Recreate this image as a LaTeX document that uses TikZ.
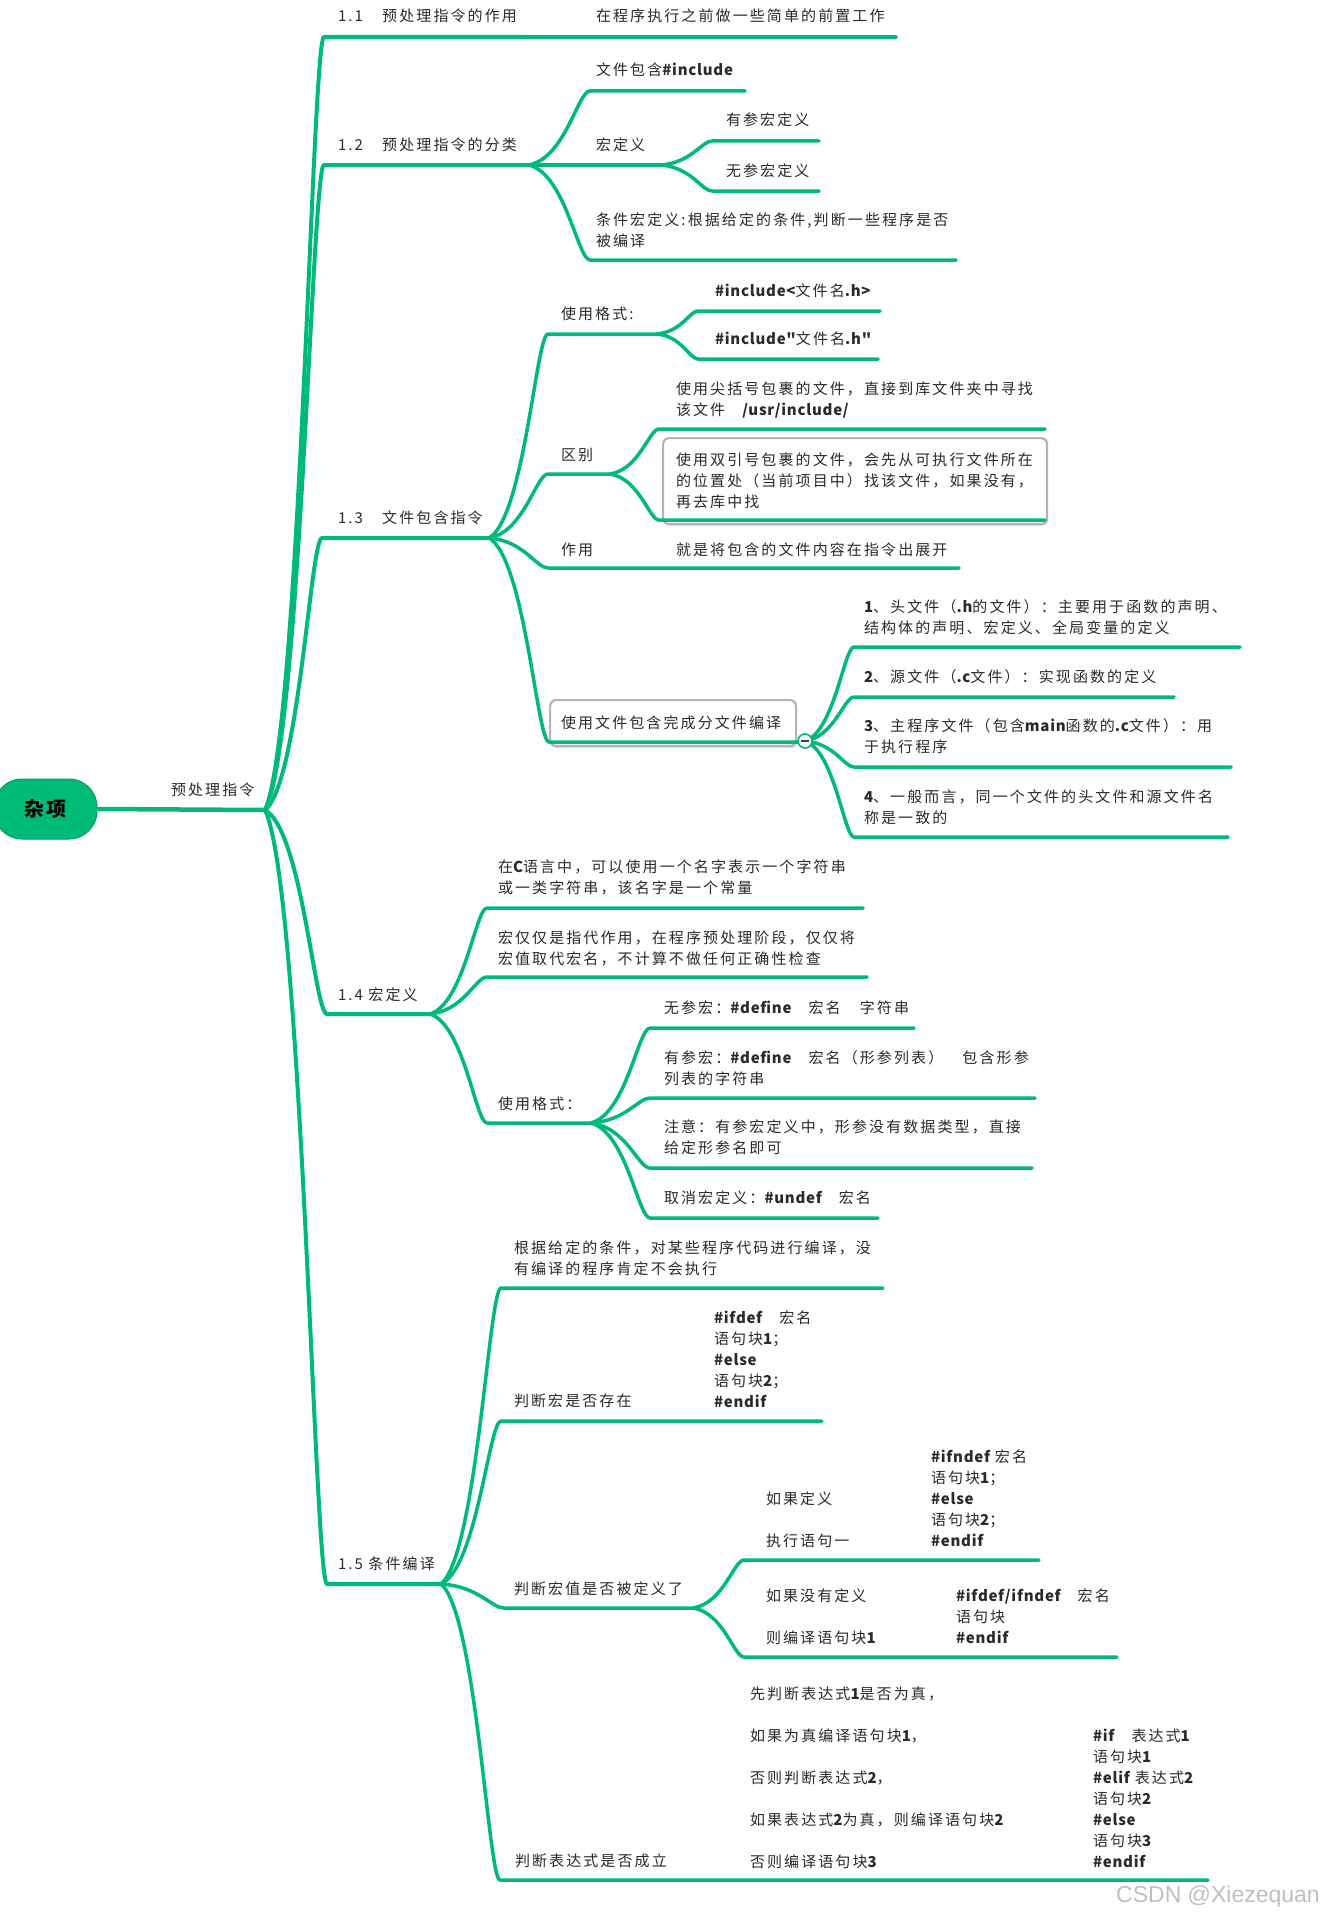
\documentclass[tikz,border=0pt]{standalone}
\usepackage{fontspec}
\setmainfont{Noto Sans CJK SC}[LetterSpace=14, Ligatures=TeXOff]
\newfontfamily\wmfont{Liberation Sans}
\usetikzlibrary{calc}
\definecolor{mmgreen}{HTML}{00BA78}
\definecolor{mmtext}{HTML}{2A2A2A}
\definecolor{mmbox}{HTML}{B4B4B4}
\definecolor{mmshadow}{HTML}{E2E2E2}
\newcommand\mmcode[1]{{\bfseries\addfontfeature{LetterSpace=5}#1}}
\newcommand\mmlink[4][mmline]{\draw[#1] let \p1=(#2), \p2=(#3) in (\p1) .. controls ({\x1+0.6*(\x2-\x1)},{\y1+0.1*(\y2-\y1)}) and ({\x2-0.2*(\x2-\x1)},{\y2}) .. (\p2) -- (#4);}
\tikzset{
  mmline/.style={draw=mmgreen, line width=3.5pt, line cap=round, line join=round},
  mmtrunk/.style={mmline, line width=4pt},
  mmtxt/.style={anchor=base west, inner sep=0pt, outer sep=0pt, text=mmtext, font=\fontsize{15}{21}\selectfont},
  mmml/.style={mmtxt, text width=440pt, align=left},
  mmboxed/.style={anchor=north west, draw=mmbox, line width=2.2pt, fill=white, rounded corners=6pt, inner sep=0pt},
  mmshade/.style={anchor=north west, fill=mmshadow, rounded corners=6pt, inner sep=0pt, draw=none},
  rootnode/.style={fill=mmgreen, draw=mmgreen!85!black, line width=1pt, rounded corners=28pt, minimum width=103pt, minimum height=60pt, inner sep=0pt, text=black, font=\fontsize{20}{20}\selectfont\bfseries},
  knob/.style={circle, draw=mmgreen, line width=1.6pt, fill=white, minimum size=14pt, inner sep=0pt}
}
\begin{document}
\begin{tikzpicture}[x=1pt,y=-1pt]
\fill[white] (0,0) rectangle (1323,1916);
\useasboundingbox (0,0) rectangle (1323,1916);

% ---------- coordinates ----------
\coordinate (P0) at (265,810);
\coordinate (a1s) at (324,37);  \coordinate (a1e) at (525,37);  \coordinate (a1ce) at (896,37);
\coordinate (a2s) at (324,165); \coordinate (a2e) at (529,165);
\coordinate (a3s) at (322,538); \coordinate (a3e) at (489,538);
\coordinate (a4s) at (327,1014); \coordinate (a4e) at (430,1014);
\coordinate (a5s) at (327,1584); \coordinate (a5e) at (441,1584);
% 1.2
\coordinate (b1s) at (590,91);  \coordinate (b1e) at (745,91);
\coordinate (b2e) at (661,165);
\coordinate (b21s) at (712,141); \coordinate (b21e) at (819,141);
\coordinate (b22s) at (712,191); \coordinate (b22e) at (819,191);
\coordinate (b3s) at (590,260); \coordinate (b3e) at (956,260);
% 1.3
\coordinate (c1s) at (548,334); \coordinate (c1e) at (657,334);
\coordinate (c11s) at (698,311); \coordinate (c11e) at (880,311);
\coordinate (c12s) at (698,359); \coordinate (c12e) at (878,359);
\coordinate (c2s) at (548,474); \coordinate (c2e) at (610,474);
\coordinate (c21s) at (659,429); \coordinate (c21e) at (1045,429);
\coordinate (c22s) at (659,520); \coordinate (c22e) at (1045,520);
\coordinate (c3s) at (548,568); \coordinate (c3e) at (959,568);
\coordinate (c4s) at (549,742); \coordinate (c4e) at (801,742);
\coordinate (c4o) at (805,741);
\coordinate (c41s) at (854,647); \coordinate (c41e) at (1240,647);
\coordinate (c42s) at (854,697); \coordinate (c42e) at (1174,697);
\coordinate (c43s) at (854,767); \coordinate (c43e) at (1231,767);
\coordinate (c44s) at (854,837); \coordinate (c44e) at (1228,837);
% 1.4
\coordinate (d1s) at (487,908); \coordinate (d1e) at (863,908);
\coordinate (d2s) at (487,977); \coordinate (d2e) at (867,977);
\coordinate (d3s) at (487,1123); \coordinate (d3e) at (591,1123);
\coordinate (d31s) at (650,1028); \coordinate (d31e) at (914,1028);
\coordinate (d32s) at (650,1098); \coordinate (d32e) at (1035,1098);
\coordinate (d33s) at (650,1168); \coordinate (d33e) at (1032,1168);
\coordinate (d34s) at (650,1218); \coordinate (d34e) at (878,1218);
% 1.5
\coordinate (e1s) at (501,1288); \coordinate (e1e) at (883,1288);
\coordinate (e2s) at (501,1421); \coordinate (e2e) at (822,1421);
\coordinate (e3s) at (504,1608); \coordinate (e3e) at (693,1608);
\coordinate (e31s) at (744,1560); \coordinate (e31e) at (1039,1560);
\coordinate (e32s) at (744,1657); \coordinate (e32e) at (1117,1657);
\coordinate (e4s) at (500,1880); \coordinate (e4e) at (1208,1880);

% ---------- boxes ----------
\node[mmshade, minimum width=384pt, minimum height=86pt] (c22sh) at (664,440) {};
\node[mmboxed, minimum width=384pt, minimum height=86pt] (c22box) at (662,437) {};
\node[mmshade, minimum width=246pt, minimum height=46pt] (c4sh) at (551,702) {};
\node[mmboxed, minimum width=246pt, minimum height=46pt] (c4box) at (549,699) {};

% ---------- root ----------
\node[rootnode] (root) at (45.5,809) {杂项};
\draw[mmtrunk, line width=4.5pt] (root.east) -- (P0);

% ---------- level 1 ----------
\mmlink[mmtrunk]{P0}{a1s}{a1e}
\draw[mmline] (a1e) -- (a1ce);
\mmlink[mmtrunk]{P0}{a2s}{a2e}
\mmlink[mmtrunk]{P0}{a3s}{a3e}
\mmlink[mmtrunk]{P0}{a4s}{a4e}
\mmlink[mmtrunk]{P0}{a5s}{a5e}

% 1.2
\mmlink{a2e}{b1s}{b1e}
\draw[mmline] (a2e) -- (b2e);
\mmlink{b2e}{b21s}{b21e}
\mmlink{b2e}{b22s}{b22e}
\mmlink{a2e}{b3s}{b3e}
% 1.3
\mmlink{a3e}{c1s}{c1e}
\mmlink{c1e}{c11s}{c11e}
\mmlink{c1e}{c12s}{c12e}
\mmlink{a3e}{c2s}{c2e}
\mmlink{c2e}{c21s}{c21e}
\mmlink{c2e}{c22s}{c22e}
\mmlink{a3e}{c3s}{c3e}
\mmlink{a3e}{c4s}{c4e}
\mmlink{c4o}{c41s}{c41e}
\mmlink{c4o}{c42s}{c42e}
\mmlink{c4o}{c43s}{c43e}
\mmlink{c4o}{c44s}{c44e}
\node[knob] (c4k) at (c4o) {};
\draw[draw=mmtext!70!mmgreen, line width=1.4pt] ($(c4k.center)+(-4,0)$) -- ($(c4k.center)+(4,0)$);
% 1.4
\mmlink{a4e}{d1s}{d1e}
\mmlink{a4e}{d2s}{d2e}
\mmlink{a4e}{d3s}{d3e}
\mmlink{d3e}{d31s}{d31e}
\mmlink{d3e}{d32s}{d32e}
\mmlink{d3e}{d33s}{d33e}
\mmlink{d3e}{d34s}{d34e}
% 1.5
\mmlink{a5e}{e1s}{e1e}
\mmlink{a5e}{e2s}{e2e}
\mmlink{a5e}{e3s}{e3e}
\mmlink{e3e}{e31s}{e31e}
\mmlink{e3e}{e32s}{e32e}
\mmlink{a5e}{e4s}{e4e}

% ---------- texts ----------
\node[mmtxt] (t0) at (171,795) {预处理指令};
\node[mmtxt] (t11) at (338,22) {1.1　预处理指令的作用};
\node[mmtxt] (t11c) at (596,22) {在程序执行之前做一些简单的前置工作};
\node[mmtxt] (t12) at (338,150) {1.2　预处理指令的分类};
\node[mmtxt] (tb1) at (596,76) {文件包含\mmcode{\#include}};
\node[mmtxt] (tb2) at (596,150) {宏定义};
\node[mmtxt] (tb21) at (726,126) {有参宏定义};
\node[mmtxt] (tb22) at (726,176) {无参宏定义};
\node[mmml] (tb3) at (596,225) {条件宏定义:根据给定的条件,判断一些程序是否\\被编译};

\node[mmtxt] (t13) at (338,523) {1.3　文件包含指令};
\node[mmtxt] (tc1) at (561,319) {使用格式:};
\node[mmtxt] (tc11) at (715,296) {\mmcode{\#include<}文件名\mmcode{.h>}};
\node[mmtxt] (tc12) at (715,344) {\mmcode{\#include"}文件名\mmcode{.h"}};
\node[mmtxt] (tc2) at (561,460) {区别};
\node[mmml] (tc21) at (676,394) {使用尖括号包裹的文件，直接到库文件夹中寻找\\该文件　\mmcode{/usr/include/}};
\node[mmml] (tc22) at (676,465) {使用双引号包裹的文件，会先从可执行文件所在\\的位置处（当前项目中）找该文件，如果没有，\\再去库中找};
\node[mmtxt] (tc3) at (561,555) {作用};
\node[mmtxt] (tc3c) at (676,555) {就是将包含的文件内容在指令出展开};
\node[mmtxt] (tc4) at (561,728) {使用文件包含完成分文件编译};
\node[mmml] (tc41) at (864,612) {\mmcode{1}、头文件（\mmcode{.h}的文件）：主要用于函数的声明、\\结构体的声明、宏定义、全局变量的定义};
\node[mmtxt] (tc42) at (864,682) {\mmcode{2}、源文件（\mmcode{.c}文件）：实现函数的定义};
\node[mmml] (tc43) at (864,731) {\mmcode{3}、主程序文件（包含\mmcode{main}函数的\mmcode{.c}文件）：用\\于执行程序};
\node[mmml] (tc44) at (864,802) {\mmcode{4}、一般而言，同一个文件的头文件和源文件名\\称是一致的};

\node[mmtxt] (t14) at (338,1000) {1.4 宏定义};
\node[mmml] (td1) at (498,872) {在\mmcode{C}语言中，可以使用一个名字表示一个字符串\\或一类字符串，该名字是一个常量};
\node[mmml] (td2) at (498,943) {宏仅仅是指代作用，在程序预处理阶段，仅仅将\\宏值取代宏名，不计算不做任何正确性检查};
\node[mmtxt] (td3) at (498,1109) {使用格式：};
\node[mmtxt] (td31) at (664,1013) {无参宏：\mmcode{\#define}　宏名　字符串};
\node[mmml] (td32) at (664,1063) {有参宏：\mmcode{\#define}　宏名（形参列表）　包含形参\\列表的字符串};
\node[mmml] (td33) at (664,1132) {注意：有参宏定义中，形参没有数据类型，直接\\给定形参名即可};
\node[mmtxt] (td34) at (664,1203) {取消宏定义：\mmcode{\#undef}　宏名};

\node[mmtxt] (t15) at (338,1569) {1.5 条件编译};
\node[mmml] (te1) at (514,1253) {根据给定的条件，对某些程序代码进行编译，没\\有编译的程序肯定不会执行};
\node[mmtxt] (te2) at (514,1406) {判断宏是否存在};
\node[mmml] (te2c) at (714,1323) {\mmcode{\#ifdef}　宏名\\语句块\mmcode{1}；\\\mmcode{\#else}\\语句块\mmcode{2}；\\\mmcode{\#endif}};
\node[mmtxt] (te3) at (514,1594) {判断宏值是否被定义了};
\node[mmml] (te31) at (766,1504) {如果定义\\[21pt]执行语句一};
\node[mmml] (te31c) at (931,1462) {\mmcode{\#ifndef} 宏名\\语句块\mmcode{1}；\\\mmcode{\#else}\\语句块\mmcode{2}；\\\mmcode{\#endif}};
\node[mmml] (te32) at (766,1601) {如果没有定义\\[21pt]则编译语句块\mmcode{1}};
\node[mmml] (te32c) at (956,1601) {\mmcode{\#ifdef/ifndef}　宏名\\语句块\\\mmcode{\#endif}};
\node[mmtxt] (te4) at (515,1866) {判断表达式是否成立};
\node[mmml] (te4m) at (750,1699) {先判断表达式\mmcode{1}是否为真，\\[21pt]如果为真编译语句块\mmcode{1}，\\[21pt]否则判断表达式\mmcode{2}，\\[21pt]如果表达式\mmcode{2}为真，则编译语句块\mmcode{2}\\[21pt]否则编译语句块\mmcode{3}};
\node[mmml] (te4c) at (1093,1741) {\mmcode{\#if}　表达式\mmcode{1}\\语句块\mmcode{1}\\\mmcode{\#elif} 表达式\mmcode{2}\\语句块\mmcode{2}\\\mmcode{\#else}\\语句块\mmcode{3}\\\mmcode{\#endif}};

\node[anchor=east, inner sep=0pt, text=black!25, font=\wmfont\fontsize{23}{23}\selectfont] (wm) at (1320,1897) {CSDN @Xiezequan};
\end{tikzpicture}
\end{document}
